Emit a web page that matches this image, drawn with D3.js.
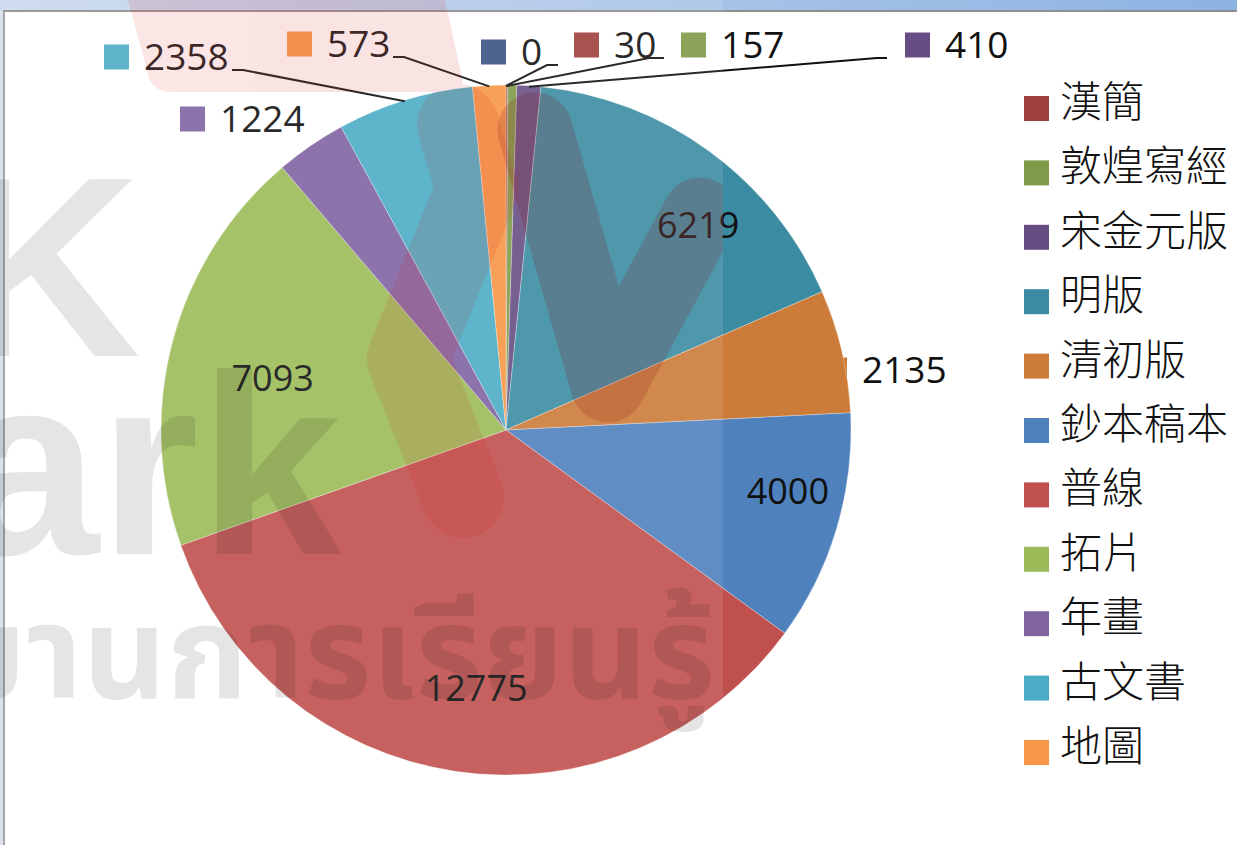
<!DOCTYPE html>
<html>
<head>
<meta charset="utf-8">
<script src="https://cdn.jsdelivr.net/npm/d3@7"></script>
<style>
html, body { margin: 0; padding: 0; background: #fff; overflow: hidden; }
</style>
</head>
<body>
<svg id="chart" width="1237" height="845"></svg>
<script>
// data
var categories = ["", "漢簡", "敦煌寫經", "宋金元版", "明版", "清初版", "鈔本稿本", "普線", "拓片", "年畫", "古文書", "地圖"];
var values = [0, 30, 157, 410, 6219, 2135, 4000, 12775, 7093, 1224, 2358, 573];
var colors = ["#3B5284", "#9E413E", "#7F9A48", "#664E84", "#3B8CA2", "#CC7B38",
              "#4F81BD", "#C0504D", "#9BBB59", "#8064A2", "#4BACC6", "#F79646"];

// label layout (the small ones were dragged out by hand in excel)
var outsideLabels = {
  0:  {kx: 481, cy: 52, stub: [558, 547]},
  1:  {kx: 574, cy: 45, stub: [664, 649]},
  2:  {kx: 681, cy: 45},
  3:  {kx: 905, cy: 45, stub: [887, 877]},
  5:  {kx: 822, cy: 370},
  9:  {kx: 180, cy: 119},
  10: {kx: 104, cy: 57, stub: [232, 243]},
  11: {kx: 287, cy: 44, stub: [393, 404]}
};
var insideLabels = {4: [0.815, 7], 6: [0.836, -4.4], 7: [0.754, -1.7], 8: [0.693, -2.4]};

var svg = d3.select("#chart");
var W = 1237, H = 845;
var cx = 506, cy = 430, R = 345;
var numFont = "'Open Sans', 'Liberation Sans', sans-serif";

// window chrome + chart frame
var defs = svg.append("defs");
var grad = defs.append("linearGradient").attr("id", "bar").attr("x1", 0).attr("x2", 1);
grad.append("stop").attr("offset", "0%").attr("stop-color", "#CBD8EE");
grad.append("stop").attr("offset", "100%").attr("stop-color", "#8DB3E2");
svg.append("rect").attr("x", 0).attr("y", 0).attr("width", W).attr("height", 11).attr("fill", "url(#bar)");
svg.append("rect").attr("x", 0).attr("y", 11).attr("width", 3).attr("height", H).attr("fill", "#D6DEE8");
svg.append("line").attr("x1", 3).attr("x2", W).attr("y1", 11).attr("y2", 11).attr("stroke", "#8E8E8E").attr("stroke-width", 2);
svg.append("line").attr("x1", 4).attr("x2", 4).attr("y1", 11).attr("y2", H).attr("stroke", "#9C9C9C").attr("stroke-width", 2);

var pie = d3.pie().sort(null).value(function(d) { return d; });
var arcs = pie(values);
var arc = d3.arc().innerRadius(0).outerRadius(R);

// outside labels first, excel hides the 2135 key under the pie
var outer = svg.append("g");
Object.keys(outsideLabels).forEach(function(k) {
  var L = outsideLabels[k];
  outer.append("rect")
    .attr("x", L.kx).attr("y", L.cy - 12.5)
    .attr("width", 25).attr("height", 25)
    .attr("fill", colors[k]);
  outer.append("text")
    .attr("x", L.kx + 40).attr("y", L.cy + 13)
    .style("font-family", numFont).style("font-size", "37px")
    .attr("fill", "#111")
    .text(values[k]);
});

var g = svg.append("g").attr("transform", "translate(" + cx + "," + cy + ")");
g.selectAll("path.slice")
  .data(arcs).enter()
  .append("path")
  .attr("class", "slice")
  .attr("d", arc)
  .attr("fill", function(d, i) { return colors[i]; })
  .attr("stroke", "#fff").attr("stroke-width", 0.6).attr("stroke-opacity", 0.5);

Object.keys(insideLabels).forEach(function(k) {
  var d = arcs[k], p = insideLabels[k];
  var a = (d.startAngle + d.endAngle) / 2 + p[1] * Math.PI / 180;
  var pt = d3.pointRadial(a, p[0] * R);
  g.append("text")
    .attr("x", pt[0]).attr("y", pt[1] + 13)
    .attr("text-anchor", "middle")
    .style("font-family", numFont).style("font-size", "36px")
    .attr("fill", "#111")
    .text(values[k]);
});

// leader lines
Object.keys(outsideLabels).forEach(function(k) {
  var L = outsideLabels[k];
  if (!L.stub) return;
  var d = arcs[k];
  var e = d3.pointRadial((d.startAngle + d.endAngle) / 2, R);
  var yy = L.cy + 13;
  var pts = [[L.stub[0], yy], [L.stub[1], yy], [cx + e[0], cy + e[1] + 1]];
  svg.append("path")
    .attr("d", d3.line()(pts))
    .attr("fill", "none").attr("stroke", "#111").attr("stroke-width", 2);
});

// legend
var legend = svg.append("g");
var li = 0;
categories.forEach(function(c, i) {
  if (!c) return;
  var y = 96 + 64.4 * li;
  legend.append("rect").attr("x", 1024).attr("y", y).attr("width", 25).attr("height", 25).attr("fill", colors[i]);
  legend.append("text")
    .attr("x", 1060).attr("y", y + 21)
    .style("font-family", "'Noto Sans CJK TC', sans-serif")
    .style("font-size", "42px").style("font-weight", 300)
    .attr("fill", "#111")
    .text(c);
  li++;
});

// watermark pasted over the left part of the screenshot
svg.append("rect").attr("x", 0).attr("y", 0).attr("width", 723).attr("height", H)
  .attr("fill", "#fff").attr("fill-opacity", 0.1);

var wm = svg.append("g").attr("fill", "#000").attr("fill-opacity", 0.1)
  .style("font-family", "'Liberation Sans', Arial, sans-serif").style("font-weight", "bold");
wm.append("text").attr("x", -45).attr("y", 356).style("font-size", "257px").text("K");
wm.append("text").attr("x", -44).attr("y", 554).style("font-size", "257px").text("ark");
wm.append("text").attr("x", 715).attr("y", 698).attr("text-anchor", "end")
  .style("font-family", "'Noto Sans Thai', 'Noto Sans', sans-serif")
  .style("font-size", "130px").text("อุทยานการเรียนรู้");

var clip = defs.append("clipPath").attr("id", "wmclip");
clip.append("rect").attr("x", 0).attr("y", 0).attr("width", 723).attr("height", H);

var logo = svg.append("g").attr("clip-path", "url(#wmclip)");
var pink = logo.append("g").attr("opacity", 0.11);
pink.append("path")
  .attr("d", "M128,0 L445,0 L462,78 Q464,92 450,92 L172,92 Q152,92 148,74 Z")
  .attr("fill", "#D81010");
pink.append("path")
  .attr("d", d3.line()([[458, 125], [477, 189], [408, 359], [463, 497]]))
  .attr("fill", "none").attr("stroke", "#D81010").attr("stroke-width", 82)
  .attr("stroke-linecap", "round").attr("stroke-linejoin", "round");
logo.append("path")
  .attr("d", d3.line()([[535, 130], [608, 385], [700, 215]]))
  .attr("fill", "none").attr("stroke", "#8B1010").attr("stroke-width", 75)
  .attr("stroke-opacity", 0.18)
  .attr("stroke-linecap", "round").attr("stroke-linejoin", "round");
</script>
</body>
</html>
